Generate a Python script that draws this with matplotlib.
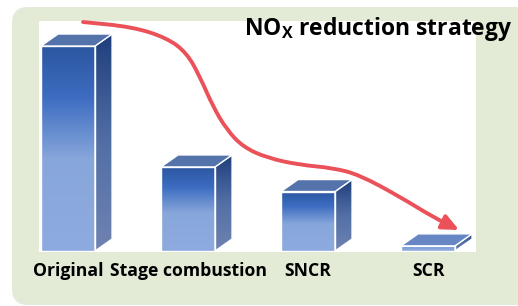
import numpy as np
import matplotlib
matplotlib.use('Agg')
import matplotlib.pyplot as plt
from matplotlib.colors import LinearSegmentedColormap
from matplotlib.patches import Polygon, FancyBboxPatch, FancyArrowPatch
from matplotlib.path import Path

plt.rcParams['font.family'] = ['Open Sans', 'DejaVu Sans']
plt.rcParams['mathtext.fontset'] = 'custom'
plt.rcParams['mathtext.rm'] = 'Open Sans:bold'

# data
strategies = ['Original', 'Stage combustion', 'SNCR', 'SCR']
nox_level = [100, 41, 29, 2.5]   # relative NOx emission, % of original
title = r'NO$_{\mathrm{X}}$ reduction strategy'

# red trend arrow guide points (x in bar slots, y in % of original)
trend_x = [0.125, 0.54, 0.825, 0.99, 1.10, 1.21, 1.325, 1.46, 1.66, 1.93, 2.21, 2.43, 2.77, 3.04, 3.26]
trend_y = [111.7, 109.3, 103.9, 96.6, 84.9, 70.2, 59.0, 50.7, 45.4, 42.0, 40.5, 37.1, 26.3, 16.6, 10.2]

front_cmap = LinearSegmentedColormap.from_list(
    'front', [(0, '#8eabdf'), (0.45, '#87a6da'), (0.75, '#3d6dc1'), (1, '#2b56a0')])
side_cmap = LinearSegmentedColormap.from_list(
    'side', [(0, '#6f83b1'), (0.5, '#526fa5'), (1, '#1e3e7c')])
grad = np.linspace(0, 1, 256).reshape(-1, 1)

fig = plt.figure(figsize=(5.18, 3.06), dpi=100)

# green rounded panel behind everything
bg = fig.add_axes([0, 0, 1, 1])
bg.set_xlim(0, 518)
bg.set_ylim(306, 0)
bg.axis('off')
bg.add_patch(FancyBboxPatch((12, 7), 540, 298, boxstyle='round,pad=0,rounding_size=16',
                            fc='#e3ebd7', ec='none'))

ax = fig.add_axes([39 / 518, 1 - 252 / 306, 437 / 518, 231 / 306])
ax.set_facecolor('white')
for s in ax.spines.values():
    s.set_visible(False)

w = 0.45
dx, dy = 0.142, 5.85
for i, v in enumerate(nox_level):
    x0, x1 = i - w / 2, i + w / 2
    front = Polygon([(x0, 0), (x1, 0), (x1, v), (x0, v)], closed=True,
                    fc='none', ec='white', lw=1, zorder=3)
    side = Polygon([(x1, 0), (x1 + dx, dy), (x1 + dx, v + dy), (x1, v)], closed=True,
                   fc='none', ec='white', lw=1, zorder=3)
    top = Polygon([(x0, v), (x1, v), (x1 + dx, v + dy), (x0 + dx, v + dy)], closed=True,
                  fc='#5473ab' if v > 10 else '#6787c4', ec='white', lw=1, zorder=3)
    for p in (front, side, top):
        ax.add_patch(p)
    im = ax.imshow(grad, extent=[x0, x1, 0, v], origin='lower', cmap=front_cmap,
                   aspect='auto', zorder=2)
    im.set_clip_path(front)
    im = ax.imshow(grad, extent=[x1, x1 + dx, 0, v + dy], origin='lower', cmap=side_cmap,
                   aspect='auto', zorder=2)
    im.set_clip_path(side)

# smooth path through the guide points (quadratic segments between midpoints)
pts = np.column_stack([trend_x, trend_y])
verts = [pts[0], (pts[0] + pts[1]) / 2]
codes = [Path.MOVETO, Path.LINETO]
for k in range(1, len(pts) - 1):
    verts += [pts[k], (pts[k] + pts[k + 1]) / 2]
    codes += [Path.CURVE3, Path.CURVE3]
verts.append(pts[-1])
codes.append(Path.LINETO)

arrow = FancyArrowPatch(path=Path(verts, codes),
                        arrowstyle='-|>,head_length=10,head_width=4.5', mutation_scale=1,
                        color='#eb5159', lw=2.8, shrinkA=0, shrinkB=0,
                        clip_on=False, zorder=5)
ax.add_patch(arrow)

ax.set_xlim(-0.242, 3.4)
ax.set_ylim(-0.5, 112.2)
ax.set_xticks(range(len(strategies)), strategies, fontsize=12.7, fontweight='bold')
ax.set_yticks([])
ax.tick_params(length=0, pad=7)

fig.text(512 / 518, 1 - 35 / 306, title, ha='right', va='baseline',
         fontsize=16.5, fontweight='bold')

fig.savefig('out.png', dpi=100)
